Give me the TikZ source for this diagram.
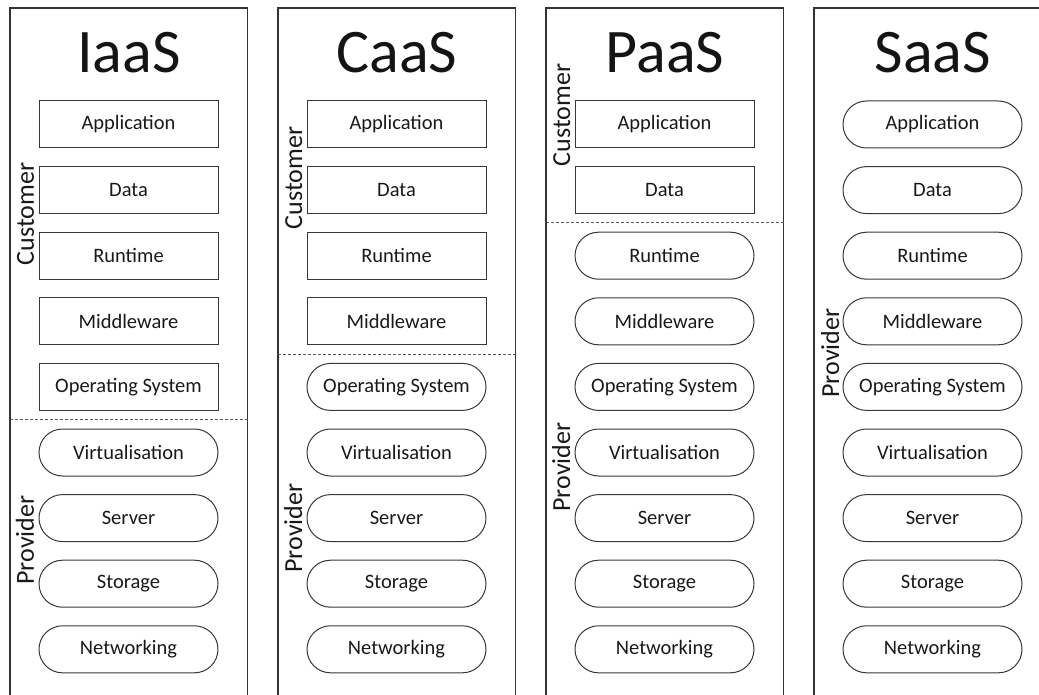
\documentclass[tikz,border=0pt]{standalone}
\usepackage{fontspec}
\setmainfont{Carlito}
\begin{document}
\begin{tikzpicture}[x=1pt,y=1pt,
  ink/.style={draw=black!78, line width=1pt},
  layerbox/.style={ink, minimum width=179pt, minimum height=47pt, inner sep=0pt,
    font=\fontsize{20.5}{24}\selectfont, text=black!90},
  userlayer/.style={layerbox, rectangle},
  vendorlayer/.style={layerbox, rounded corners=23.5pt},
  title/.style={font=\fontsize{62}{62}\selectfont, anchor=base, inner sep=0pt, text=black!92},
  side/.style={font=\fontsize{26}{30}\selectfont, rotate=90, anchor=base, inner sep=0pt, text=black!90},
  split/.style={draw=black!65, line width=0.8pt, dash pattern=on 3pt off 2pt},
  frame/.style={draw=black!80, line width=1.1pt}
]
\clip (0,0) rectangle (1039,-695);

% one column per service model: left edge, title, number of customer-managed layers
\foreach \col/\L/\name/\nrect in {1/10/IaaS/5, 2/278/CaaS/4, 3/546/PaaS/2, 4/814/SaaS/0}{
  \draw[frame] (\L,-700) -- (\L,-8) -- ({\L+237.5},-8) -- ({\L+237.5},-700);
  \node[title] (title\col) at ({\L+119},-73) {\name};
  \foreach \i/\lab in {1/Application, 2/Data, 3/Runtime, 4/Middleware,
                       5/Operating System, 6/Virtualisation, 7/Server,
                       8/Storage, 9/Networking}{
    \ifnum\i>\nrect \def\kind{vendorlayer}\else\def\kind{userlayer}\fi
    \node[\kind] (c\col r\i) at ({\L+118.5},{-124.5-65.6*(\i-1)}) {\lab};
  }
  % boundary between customer and provider responsibility
  \ifnum\nrect>0
    \coordinate (sl\col) at (\L,{-157.3-65.6*(\nrect-1)});
    \coordinate (sr\col) at ({\L+237.5},{-157.3-65.6*(\nrect-1)});
    \draw[split] (sl\col) -- (sr\col);
  \fi
}

% responsibility labels
\node[side] (cust1) at (34,-214) {Customer};
\node[side] (prov1) at (34,-540) {Provider};
\node[side] (cust2) at (302,-178) {Customer};
\node[side] (prov2) at (302,-528) {Provider};
\node[side] (cust3) at (570,-115) {Customer};
\node[side] (prov3) at (570,-467) {Provider};
\node[side] (prov4) at (839,-353) {Provider};
\end{tikzpicture}
\end{document}
